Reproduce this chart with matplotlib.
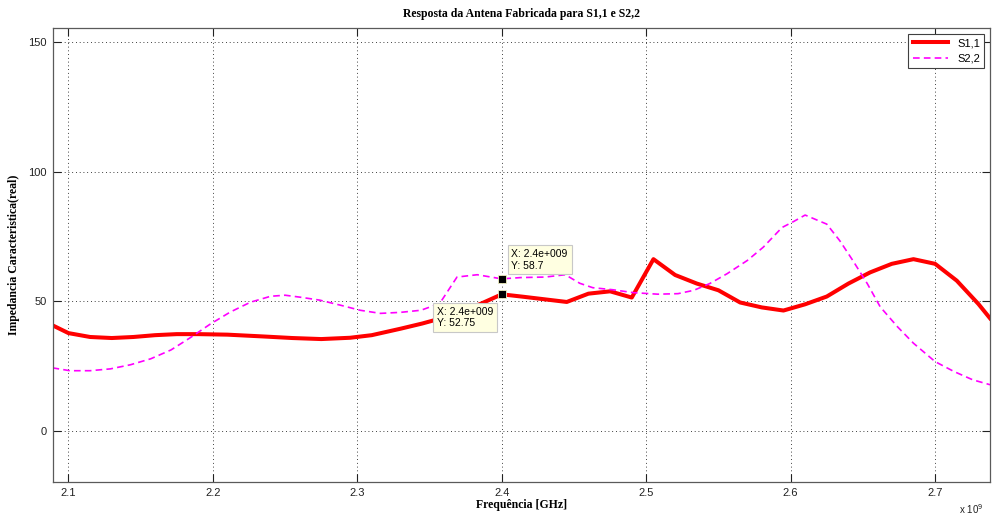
import matplotlib.pyplot as plt

# Frequencia em GHz (eixo mostrado como x 10^9 Hz)
s11_freq = [2.089, 2.100, 2.115, 2.130, 2.145, 2.160, 2.175, 2.190, 2.210, 2.235,
            2.255, 2.275, 2.295, 2.310, 2.330, 2.345, 2.360, 2.370, 2.385, 2.400,
            2.415, 2.430, 2.445, 2.460, 2.475, 2.490, 2.505, 2.520, 2.535, 2.550,
            2.565, 2.580, 2.595, 2.610, 2.625, 2.640, 2.655, 2.670, 2.685, 2.700,
            2.715, 2.730, 2.738]
s11_real = [40.8, 37.8, 36.3, 35.9, 36.3, 37.0, 37.4, 37.4, 37.2, 36.5,
            35.9, 35.5, 36.0, 37.0, 39.5, 41.5, 43.8, 46.0, 49.0, 52.75,
            51.8, 50.8, 49.8, 53.0, 53.9, 51.5, 66.3, 60.2, 56.9, 54.3,
            49.6, 47.7, 46.5, 48.9, 51.9, 56.9, 61.2, 64.5, 66.3, 64.5,
            58.0, 49.0, 43.5]

s22_freq = [2.089, 2.101, 2.115, 2.129, 2.143, 2.157, 2.171, 2.184, 2.198, 2.212,
            2.226, 2.240, 2.250, 2.261, 2.274, 2.288, 2.302, 2.316, 2.330, 2.344,
            2.357, 2.369, 2.383, 2.400, 2.413, 2.430, 2.444, 2.454, 2.463, 2.477,
            2.491, 2.508, 2.522, 2.533, 2.544, 2.556, 2.570, 2.581, 2.594, 2.602,
            2.610, 2.625, 2.634, 2.643, 2.653, 2.662, 2.674, 2.685, 2.700, 2.713,
            2.726, 2.738]
s22_real = [24.4, 23.3, 23.3, 24.0, 25.6, 27.9, 31.3, 35.9, 41.2, 45.9,
            49.7, 52.0, 52.4, 51.6, 50.5, 48.6, 46.6, 45.4, 45.8, 46.6,
            49.2, 59.4, 60.3, 58.7, 59.2, 59.4, 60.3, 57.0, 55.3, 54.5,
            53.4, 52.8, 53.0, 54.3, 56.9, 60.7, 65.8, 70.9, 78.5, 80.8,
            83.3, 79.8, 73.4, 65.8, 56.9, 47.9, 40.2, 33.9, 26.8, 23.0,
            19.8, 17.9]

x_ticks = [2.1, 2.2, 2.3, 2.4, 2.5, 2.6, 2.7]
y_ticks = [0, 50, 100, 150]

tip_points = [(2.4, 58.7), (2.4, 52.75)]
tip_texts = ["X: 2.4e+009\nY: 58.7", "X: 2.4e+009\nY: 52.75"]

plt.rcParams["font.family"] = ["Liberation Sans", "DejaVu Sans"]

fig = plt.figure(figsize=(9.93, 5.17), dpi=100, facecolor="white")
ax = fig.add_axes([0.0529, 0.0677, 0.9441, 0.8781])

ax.plot(s11_freq, s11_real, color="#ff0000", linewidth=2.9, label="S1,1")
ax.plot(s22_freq, s22_real, color="#ff00ff", linewidth=1.2,
        linestyle=(0, (4, 2.5)), label="S2,2")

ax.set_xlim(2.089, 2.738)
ax.set_ylim(-19.6, 155.4)
ax.set_xticks(x_ticks)
ax.set_xticklabels([f"{t:.1f}" for t in x_ticks])
ax.set_yticks(y_ticks)
ax.grid(True, color="black", linestyle=(0, (1, 3.5)), linewidth=0.6)
ax.tick_params(direction="in", length=6, width=0.8, top=True, right=True,
               labelsize=8, colors="#222222", pad=4)
for sp in ax.spines.values():
    sp.set_color("#5a5a5a")
    sp.set_linewidth(0.9)

# datatips
ax.plot([p[0] for p in tip_points], [p[1] for p in tip_points], "s",
        color="black", markersize=6, markeredgecolor="#f0f0c0", markeredgewidth=0.6,
        zorder=5)
tip_box = dict(boxstyle="square,pad=0.35", facecolor="#ffffe1", edgecolor="#c8c8c8", lw=0.8)
ax.annotate(tip_texts[0], xy=tip_points[0], xytext=(7, 6), textcoords="offset points",
            ha="left", va="bottom", multialignment="left", fontsize=7.5,
            bbox=tip_box, zorder=6)
ax.annotate(tip_texts[1], xy=tip_points[1], xytext=(-6, -9), textcoords="offset points",
            ha="right", va="top", multialignment="left", fontsize=7.5,
            bbox=tip_box, zorder=6)

leg = ax.legend(loc="upper right", fontsize=8, fancybox=False, framealpha=1,
                edgecolor="#404040", handlelength=3.2, borderaxespad=0.5)
leg.get_frame().set_linewidth(0.8)

serif = ["Liberation Serif", "DejaVu Serif"]
ax.set_title("Resposta da Antena Fabricada para S1,1 e S2,2", fontsize=8.5,
             fontweight="bold", family=serif, pad=8)
ax.set_xlabel("Frequência [GHz]", fontsize=8.5, fontweight="bold", family=serif, labelpad=1)
ax.set_ylabel("Impedancia Caracteristica(real)", fontsize=8.5, fontweight="bold",
              family=serif, labelpad=6)
fig.text(0.966, 0.002, r"x 10$^9$", fontsize=7, color="#222222", ha="left", va="bottom")

fig.savefig("out.png", dpi=100)
